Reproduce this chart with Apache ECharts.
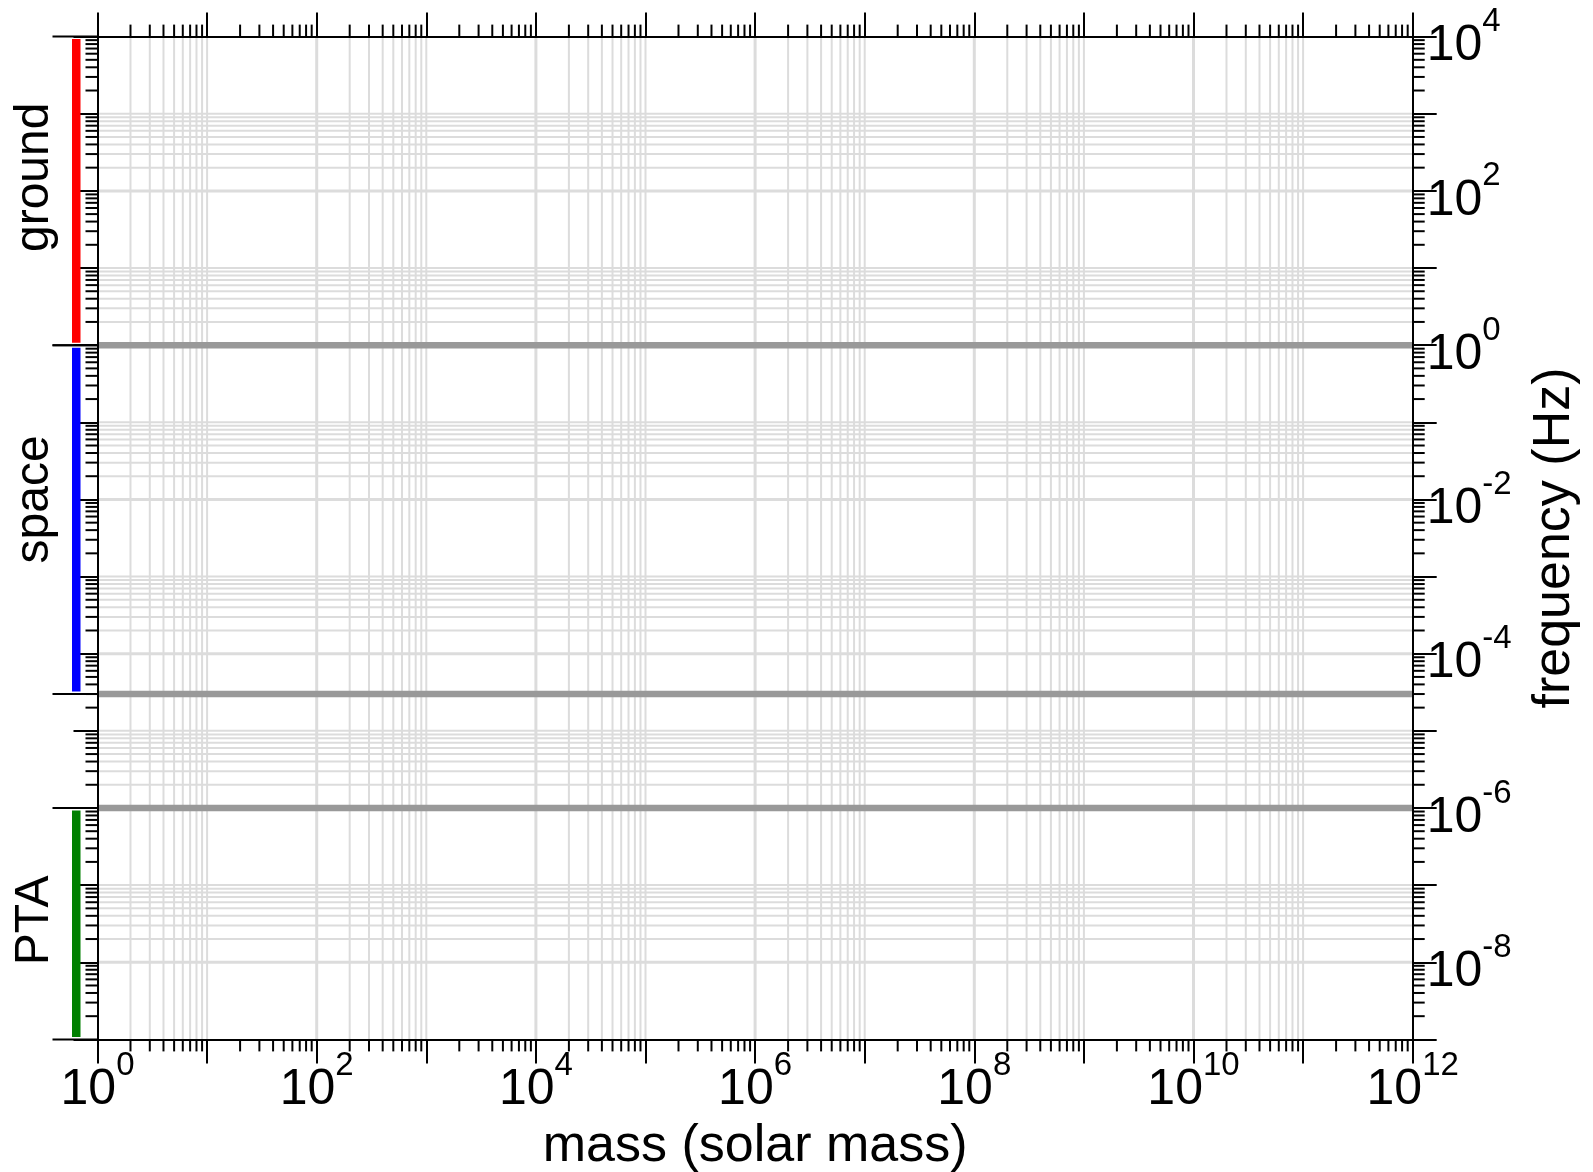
<!DOCTYPE html>
<html>
<head>
<meta charset="utf-8">
<script src="https://cdn.jsdelivr.net/npm/echarts@6/dist/echarts.min.js"></script>
<style>
  html, body { margin: 0; padding: 0; background: #ffffff; }
  #chart { width: 1593px; height: 1172px; }
</style>
</head>
<body>
<div id="chart"></div>
<script>
// Axis ranges: black-hole mass (solar masses) and GW frequency (Hz)
const massRange = [1, 1e12];
const freqRange = [1e-9, 1e4];

// Decade exponents spanned by each axis
const massDecades = [0, 1, 2, 3, 4, 5, 6, 7, 8, 9, 10, 11, 12];
const freqDecades = [-9, -8, -7, -6, -5, -4, -3, -2, -1, 0, 1, 2, 3, 4];
const minorSteps = [2, 3, 4, 5, 6, 7, 8, 9];

// Detector frequency bands
const bandNames = ['ground', 'space', 'PTA'];
const bandLow = [1, 3e-5, 1e-9];
const bandHigh = [1e4, 1, 1e-6];
const bandLabelAt = [150, 0.01, 3.5e-8];
const bandColors = ['#ff0000', '#0000ff', '#008000'];

// Band edges drawn as gray rules across the plot
const boundaryFreqs = [1, 3e-5, 1e-6];

const FONT = "'Liberation Sans', Arial, Helvetica, sans-serif";
const INK = '#000000';
const GRID = '#dcdcdc';

const dec = e => Number('1e' + e);
const expOf = v => Math.round(Math.log10(v));

// Gridlines: decade lines everywhere, 2..9 lines only in even-exponent decades.
// kind: 2 = labelled decade, 1 = unlabelled decade, 0 = minor
const gridData = [];
massDecades.forEach((e, i) => {
  const v = dec(e);
  if (v > massRange[0] && v < massRange[1]) gridData.push([v, freqRange[0], 0, e % 2 === 0 ? 2 : 1]);
  if (e % 2 === 0 && i < massDecades.length - 1) minorSteps.forEach(k => gridData.push([k * v, freqRange[0], 0, 0]));
});
freqDecades.forEach((e, i) => {
  const v = dec(e);
  if (v > freqRange[0] && v < freqRange[1]) gridData.push([massRange[0], v, 1, e % 2 === 0 ? 2 : 1]);
  if (e % 2 === 0 && i < freqDecades.length - 1) minorSteps.forEach(k => gridData.push([massRange[0], k * v, 1, 0]));
});

// Minor ticks in every decade, on all four sides
const minorTickData = [];
massDecades.slice(0, -1).forEach(e => minorSteps.forEach(k => minorTickData.push([k * dec(e), freqRange[0], 0])));
freqDecades.slice(0, -1).forEach(e => minorSteps.forEach(k => minorTickData.push([massRange[0], k * dec(e), 1])));

const boundaryData = boundaryFreqs.map(f => [massRange[0], f]);
const bandData = bandNames.map((n, i) => [massRange[0], bandLow[i], bandHigh[i], bandLabelAt[i], i]);

const powerLabel = v => {
  const e = expOf(v);
  return e % 2 === 0 ? '{b|10}{s|' + e + '}' : '';
};
const powerRich = {
  b: { fontFamily: FONT, fontSize: 50, lineHeight: 66, verticalAlign: 'bottom', color: INK },
  s: { fontFamily: FONT, fontSize: 33, lineHeight: 33, verticalAlign: 'top', color: INK }
};

const axisBase = {
  type: 'log',
  logBase: 10,
  interval: 1,
  axisLine: { show: true, onZero: false, lineStyle: { color: INK, width: 2 } },
  axisTick: { show: true, inside: false, length: 24, lineStyle: { color: INK, width: 2 } },
  minorTick: { show: false },
  splitLine: { show: false },
  axisLabel: { show: false },
  z: 3
};

const option = {
  backgroundColor: '#ffffff',
  animation: false,
  grid: {
    left: 97.5, right: 180.3, top: 36.6, bottom: 132.6,
    containLabel: false, outerBoundsMode: 'none'
  },
  xAxis: [
    Object.assign({}, axisBase, {
      position: 'bottom', min: massRange[0], max: massRange[1],
      name: 'mass (solar mass)', nameLocation: 'middle', nameGap: 78,
      nameTextStyle: { fontFamily: FONT, fontSize: 52, color: INK },
      axisLabel: { show: true, margin: 10, formatter: powerLabel, rich: powerRich }
    }),
    Object.assign({}, axisBase, { position: 'top', min: massRange[0], max: massRange[1] })
  ],
  yAxis: [
    Object.assign({}, axisBase, { position: 'left', min: freqRange[0], max: freqRange[1] }),
    Object.assign({}, axisBase, {
      position: 'right', min: freqRange[0], max: freqRange[1],
      name: 'frequency (Hz)', nameLocation: 'middle', nameRotate: 90, nameGap: 116,
      nameTextStyle: { fontFamily: FONT, fontSize: 52, color: INK },
      axisLabel: { show: true, margin: 14, padding: [4, 0, 0, 0], formatter: powerLabel, rich: powerRich }
    })
  ],
  series: [
    {
      // light grid
      type: 'custom', xAxisIndex: 0, yAxisIndex: 0, z: 1, silent: true, clip: false,
      encode: { x: 0, y: 1 },
      data: gridData,
      renderItem: (params, api) => {
        const cs = params.coordSys;
        const p = api.coord([api.value(0), api.value(1)]);
        const style = { stroke: GRID, lineWidth: api.value(3) === 2 ? 3 : 2 };
        if (api.value(2) === 0) {
          return { type: 'line', shape: { x1: p[0], y1: cs.y, x2: p[0], y2: cs.y + cs.height }, style };
        }
        return { type: 'line', shape: { x1: cs.x, y1: p[1], x2: cs.x + cs.width, y2: p[1] }, style };
      }
    },
    {
      // band boundary rules
      type: 'custom', xAxisIndex: 0, yAxisIndex: 0, z: 2, silent: true, clip: false,
      encode: { x: 0, y: 1 },
      data: boundaryData,
      renderItem: (params, api) => {
        const cs = params.coordSys;
        const y = api.coord([api.value(0), api.value(1)])[1];
        return { type: 'line', shape: { x1: cs.x, y1: y, x2: cs.x + cs.width, y2: y },
                 style: { stroke: '#999999', lineWidth: 6.5 } };
      }
    },
    {
      // minor ticks on every side
      type: 'custom', xAxisIndex: 0, yAxisIndex: 0, z: 4, silent: true, clip: false,
      encode: { x: 0, y: 1 },
      data: minorTickData,
      renderItem: (params, api) => {
        const cs = params.coordSys;
        const p = api.coord([api.value(0), api.value(1)]);
        const style = { stroke: INK, lineWidth: 2 };
        const L = 12;
        if (api.value(2) === 0) {
          const yb = cs.y + cs.height;
          return { type: 'group', children: [
            { type: 'line', shape: { x1: p[0], y1: yb, x2: p[0], y2: yb + L }, style },
            { type: 'line', shape: { x1: p[0], y1: cs.y, x2: p[0], y2: cs.y - L }, style }
          ] };
        }
        const xr = cs.x + cs.width;
        return { type: 'group', children: [
          { type: 'line', shape: { x1: cs.x, y1: p[1], x2: cs.x - L, y2: p[1] }, style },
          { type: 'line', shape: { x1: xr, y1: p[1], x2: xr + L, y2: p[1] }, style }
        ] };
      }
    },
    {
      // detector bands beside the frequency axis
      type: 'custom', xAxisIndex: 0, yAxisIndex: 0, z: 5, silent: true, clip: false,
      encode: { x: 0, y: 1 },
      data: bandData,
      renderItem: (params, api) => {
        const cs = params.coordSys;
        const i = api.value(4);
        const x0 = api.value(0);
        const yLo = api.coord([x0, api.value(1)])[1];
        const yHi = api.coord([x0, api.value(2)])[1];
        const yLab = api.coord([x0, api.value(3)])[1];
        const edge = { stroke: INK, lineWidth: 2 };
        return { type: 'group', children: [
          { type: 'rect', shape: { x: cs.x - 25.5, y: yHi + 2.5, width: 8.5, height: yLo - yHi - 5 },
            style: { fill: bandColors[i] } },
          { type: 'line', shape: { x1: cs.x - 45, y1: yHi, x2: cs.x, y2: yHi }, style: edge },
          { type: 'line', shape: { x1: cs.x - 45, y1: yLo, x2: cs.x, y2: yLo }, style: edge },
          { type: 'text', x: cs.x - 63, y: yLab, rotation: Math.PI / 2,
            style: { text: bandNames[i], fontFamily: FONT, fontSize: 48, fill: INK,
                     align: 'center', verticalAlign: 'middle' } }
        ] };
      }
    }
  ]
};

const chart = echarts.init(document.getElementById('chart'));
chart.setOption(option);
</script>
</body>
</html>
